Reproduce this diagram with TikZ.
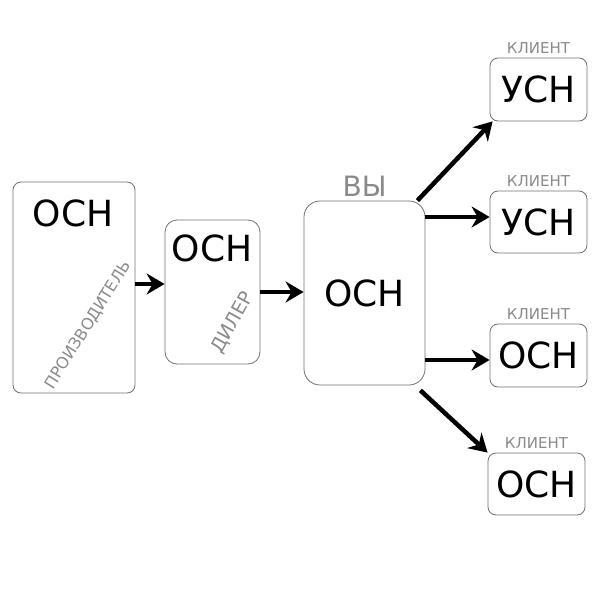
\documentclass[tikz,border=0pt]{standalone}
\usepackage{fontspec}
\setmainfont{DejaVu Sans}
\usetikzlibrary{arrows.meta,positioning}
\definecolor{tagray}{HTML}{8A8A8A}
\definecolor{boxgray}{HTML}{707070}

\begin{document}
\begin{tikzpicture}[x=1pt,y=-1pt,
box/.style={draw=boxgray,line width=0.8pt,rounded corners=#1,inner sep=0pt},
box/.default=8pt,
tax/.style={font=\fontsize{36}{36}\selectfont,text=black},
tag/.style={font=\fontsize{15}{15}\selectfont,text=tagray},
arrow/.style={-{Stealth[length=18pt,width=21pt,inset=6pt]},line width=4.5pt}]
\useasboundingbox (0,0) rectangle (600,600);
% chain
\node[box,minimum width=122pt,minimum height=211pt] (prod) at (74,287.5) {};
\node[box=12pt,minimum width=95pt,minimum height=144pt] (deal) at (212.5,292) {};
\node[box=16pt,minimum width=121pt,minimum height=184pt] (you) at (364.5,293) {};
\node[tax] (prodt) at (73,213) {ОСН};
\node[tax] (dealt) at (212,248) {ОСН};
\node[tax] (yout) at (364.5,293) {ОСН};
\node[tag,rotate=58,font=\fontsize{16}{16}\selectfont] (prodl) at (88.5,325) {ПРОИЗВОДИТЕЛЬ};
\node[tag,rotate=61,font=\fontsize{19}{19}\selectfont] (deall) at (233,323) {ДИЛЕР};
\node[tag,font=\fontsize{28}{28}\selectfont,above=1pt of you] (youl) {ВЫ};
% clients
\node[box,minimum width=97pt,minimum height=63pt] (c1) at (538.5,89.5) {};
\node[box,minimum width=97pt,minimum height=62pt] (c2) at (538.5,222) {};
\node[box,minimum width=97pt,minimum height=63pt] (c3) at (538.5,355.5) {};
\node[box,minimum width=97pt,minimum height=62pt] (c4) at (536.5,484) {};
\node[tax] (c1t) at (c1) {УСН};
\node[tax] (c2t) at (c2) {УСН};
\node[tax] (c3t) at (c3) {ОСН};
\node[tax] (c4t) at (c4) {ОСН};
\foreach \c in {c1,c2,c3,c4}
  \node[tag,above=1pt of \c] (\c l) {КЛИЕНТ};
% arrows
\draw[arrow] ([yshift=3.5]prod.east) -- ([yshift=3.5]prod.east -| deal.west);
\draw[arrow] (deal.east) -- (deal.east -| you.west);
\draw[arrow] ([xshift=-8]you.north east) -- ([xshift=3]c1.south west);
\draw[arrow] ([yshift=5]you.east |- c2.west) -- ([yshift=5]c2.west);
\draw[arrow] ([yshift=-4.5]you.east |- c3.west) -- ([yshift=-4.5]c3.west);
\draw[arrow] ([xshift=-5,yshift=-5]you.south east) -- (c4.north west);
\end{tikzpicture}
\end{document}
